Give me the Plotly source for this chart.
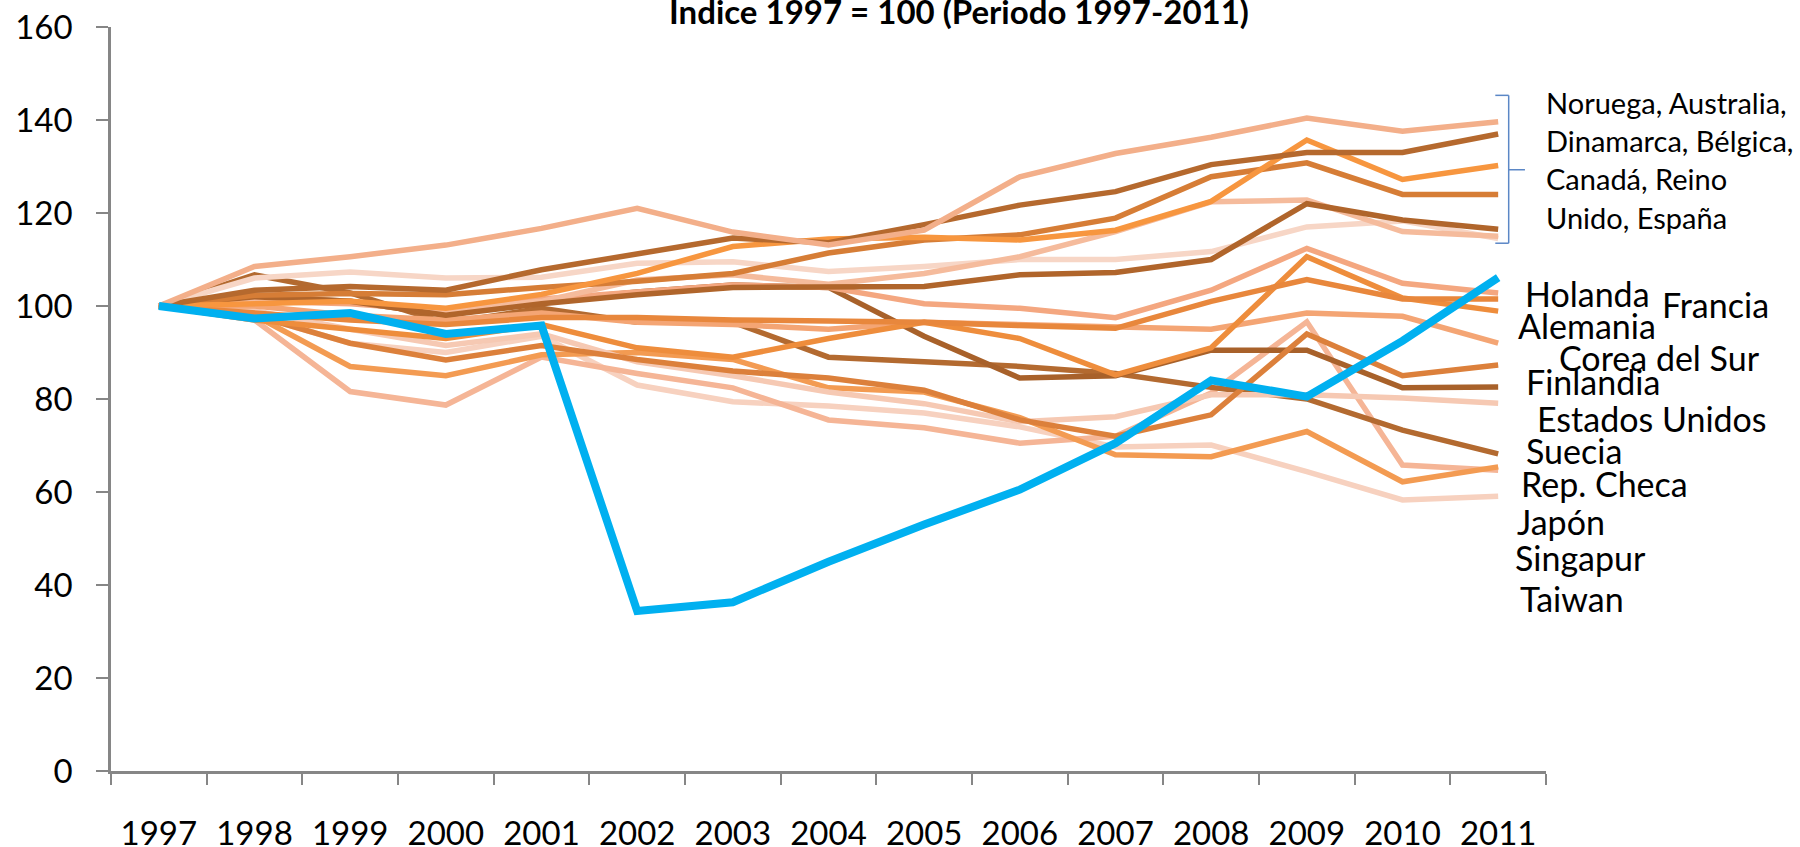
import plotly.graph_objects as go

years = ["1997", "1998", "1999", "2000", "2001", "2002", "2003", "2004",
         "2005", "2006", "2007", "2008", "2009", "2010", "2011"]

# Upper group (Noruega, Australia, Dinamarca, Bélgica, Canadá, Reino Unido, España)
serie_a = [100, 108.5, 110.6, 113.1, 116.7, 121.0, 115.9, 113.1, 116.3, 127.8, 132.8, 136.3, 140.4, 137.6, 139.6]
serie_b = [100, 103.4, 104.2, 103.4, 107.8, 111.3, 114.6, 113.6, 117.5, 121.7, 124.6, 130.4, 133.0, 133.0, 137.0]
serie_c = [100, 100.5, 101.0, 99.5, 102.5, 107.0, 112.8, 114.4, 114.8, 114.2, 116.3, 122.5, 135.7, 127.2, 130.2]
serie_d = [100, 102.3, 102.7, 102.4, 104.0, 105.3, 107.0, 111.4, 114.2, 115.3, 118.9, 127.8, 130.8, 124.0, 124.0]
serie_e = [100, 102.0, 101.0, 98.0, 100.5, 102.4, 104.0, 104.0, 104.2, 106.7, 107.2, 110.0, 122.0, 118.5, 116.5]
serie_f = [100, 101.5, 101.0, 99.0, 101.0, 105.6, 106.7, 104.7, 107.0, 110.6, 116.0, 122.4, 122.8, 116.0, 115.0]
serie_g = [100, 106.0, 107.3, 106.0, 106.2, 109.2, 109.5, 107.4, 108.5, 110.0, 110.0, 111.7, 117.0, 118.3, 114.5]
# Lower group
serie_h = [100, 101.0, 100.5, 99.0, 101.5, 103.0, 104.5, 104.0, 100.5, 99.5, 97.5, 103.4, 112.4, 104.9, 102.8]
serie_i = [100, 98.5, 97.0, 96.0, 97.5, 97.5, 97.0, 96.8, 96.5, 95.8, 95.2, 101.0, 105.7, 101.5, 101.5]
serie_j = [100, 97.0, 95.0, 93.0, 96.0, 91.0, 89.0, 93.0, 96.5, 93.0, 85.2, 91.0, 110.6, 101.7, 98.9]
serie_k = [100, 100.0, 98.0, 97.0, 98.5, 96.5, 96.0, 95.0, 96.5, 96.0, 95.5, 95.0, 98.5, 97.8, 92.0]
serie_l = [100, 98.0, 92.0, 88.4, 91.5, 88.5, 86.0, 84.5, 81.9, 75.5, 72.0, 76.6, 94.0, 85.0, 87.3]
serie_m = [100, 102.0, 101.0, 98.0, 101.0, 103.0, 104.5, 104.0, 93.5, 84.5, 85.0, 90.5, 90.5, 82.4, 82.6]
serie_n = [100, 99.0, 95.0, 91.5, 94.0, 88.0, 85.0, 81.5, 79.0, 75.1, 76.2, 80.9, 80.9, 80.2, 79.1]
serie_o = [100, 106.7, 102.8, 96.3, 99.5, 96.5, 96.5, 89.0, 88.0, 87.0, 85.5, 82.5, 80.0, 73.3, 68.2]
serie_p = [100, 98.0, 87.0, 85.0, 89.5, 90.0, 88.5, 82.4, 81.5, 76.0, 68.0, 67.6, 73.0, 62.2, 65.4]
serie_q = [100, 97.0, 81.6, 78.7, 89.0, 85.5, 82.4, 75.5, 73.8, 70.5, 72.0, 81.3, 96.6, 65.8, 64.7]
serie_r = [100, 98.0, 92.0, 90.0, 93.5, 83.0, 79.4, 78.5, 77.0, 74.0, 69.7, 70.1, 64.4, 58.3, 59.1]
# Highlighted country
serie_azul = [100, 97.3, 98.5, 94.0, 95.8, 34.4, 36.3, 45.0, 53.0, 60.5, 70.5, 84.0, 80.5, 92.5, 106.1]

etiqueta_final = "106,1"
grupo_texto = ["Noruega, Australia,", "Dinamarca, Bélgica,", "Canadá, Reino", "Unido, España"]
etiquetas = ["Holanda", "Francia", "Alemania", "Corea del Sur", "Finlandia", "Estados Unidos",
             "Suecia", "Rep. Checa", "Japón", "Singapur", "Taiwan"]
titulo = "Indice 1997 = 100 (Periodo 1997-2011)"

series = [
    (serie_r, "#F7D1BF"), (serie_q, "#F5B596"), (serie_p, "#F39B52"), (serie_o, "#B36A30"),
    (serie_n, "#F6C9B3"), (serie_m, "#A8612A"), (serie_l, "#DC803B"), (serie_k, "#F4A574"),
    (serie_j, "#EE8D3C"), (serie_i, "#E8873C"), (serie_h, "#F4A780"),
    (serie_g, "#F7D6C6"), (serie_f, "#F5BB9C"), (serie_e, "#B0652B"), (serie_d, "#D67D36"),
    (serie_c, "#F7963F"), (serie_b, "#B5692E"), (serie_a, "#F3AF8A"),
]

FONT = "Lato, 'Open Sans', sans-serif"

fig = go.Figure()
for vals, col in series:
    fig.add_trace(go.Scatter(x=years, y=vals, mode="lines",
                             line=dict(color=col, width=5.5), hoverinfo="skip",
                             showlegend=False))
fig.add_trace(go.Scatter(x=years, y=serie_azul, mode="lines",
                         line=dict(color="#00B0F0", width=8), showlegend=False))

# plot area in pixels
L, R, T, B = 111, 1546, 27, 771
W, H = 1800, 847


def px(x):
    return (x - L) / (R - L)


def py(y):
    return (B - y) / (B - T)


ann = []
ann.append(dict(text="<b>" + titulo + "</b>", x=px(959), y=py(11), xref="paper", yref="paper",
                xanchor="center", yanchor="middle", showarrow=False,
                font=dict(family=FONT, size=33, color="black")))
ann.append(dict(text="<b>" + etiqueta_final + "</b>", x=years[-1], y=serie_azul[-1], xref="x", yref="y",
                xanchor="center", yanchor="middle", yshift=24, showarrow=False,
                font=dict(family=FONT, size=33, color="black")))

group_y = [102, 140, 178, 217]
for t, yy in zip(grupo_texto, group_y):
    ann.append(dict(text=t, x=px(1544), y=py(yy), xref="paper", yref="paper",
                    xanchor="left", yanchor="middle", showarrow=False,
                    font=dict(family=FONT, size=29, color="black")))

label_pos = [(1523, 293), (1660, 304), (1516, 325), (1557, 357), (1524, 381), (1535, 418),
             (1524, 450), (1519, 483), (1515, 521), (1513, 558), (1518, 598)]
for t, (xx, yy) in zip(etiquetas, label_pos):
    ann.append(dict(text=t, x=px(xx), y=py(yy), xref="paper", yref="paper",
                    xanchor="left", yanchor="middle", showarrow=False,
                    font=dict(family=FONT, size=34, color="black")))

# brace
bc = "#5B87C6"
x0, x1, x2 = 13.97, 14.11, 14.28
ytop, ymid, ybot = 145.3, 129.3, 113.5
shapes = [
    dict(type="line", xref="x", yref="y", x0=x0, x1=x1, y0=ytop, y1=ytop, line=dict(color=bc, width=1.5)),
    dict(type="line", xref="x", yref="y", x0=x1, x1=x1, y0=ytop, y1=ybot, line=dict(color=bc, width=1.5)),
    dict(type="line", xref="x", yref="y", x0=x0, x1=x1, y0=ybot, y1=ybot, line=dict(color=bc, width=1.5)),
    dict(type="line", xref="x", yref="y", x0=x1, x1=x2, y0=ymid, y1=ymid, line=dict(color=bc, width=1.5)),
]

fig.update_layout(
    width=W, height=H,
    margin=dict(l=L, r=W - R, t=T, b=H - B, pad=0, autoexpand=False),
    plot_bgcolor="white", paper_bgcolor="white",
    annotations=ann, shapes=shapes,
    xaxis=dict(type="category", range=[-0.5, 14.5], showgrid=False, zeroline=False, automargin=False,
               showline=True, linecolor="#868686", linewidth=2.5,
               ticks="outside", tickson="boundaries", ticklen=11, tickcolor="#868686", tickwidth=2,
               tickfont=dict(family=FONT, size=33, color="black"), ticklabelstandoff=32),
    yaxis=dict(range=[0, 160], dtick=20, showgrid=False, zeroline=False, automargin=False,
               showline=True, linecolor="#868686", linewidth=2.5,
               ticks="outside", ticklen=12, tickcolor="#868686", tickwidth=2,
               tickfont=dict(family=FONT, size=33, color="black"), ticklabelstandoff=17),
)

fig.write_html("out.html", config={"displayModeBar": False},
               post_script="document.body.style.margin='0px';document.body.style.overflow='hidden';")
